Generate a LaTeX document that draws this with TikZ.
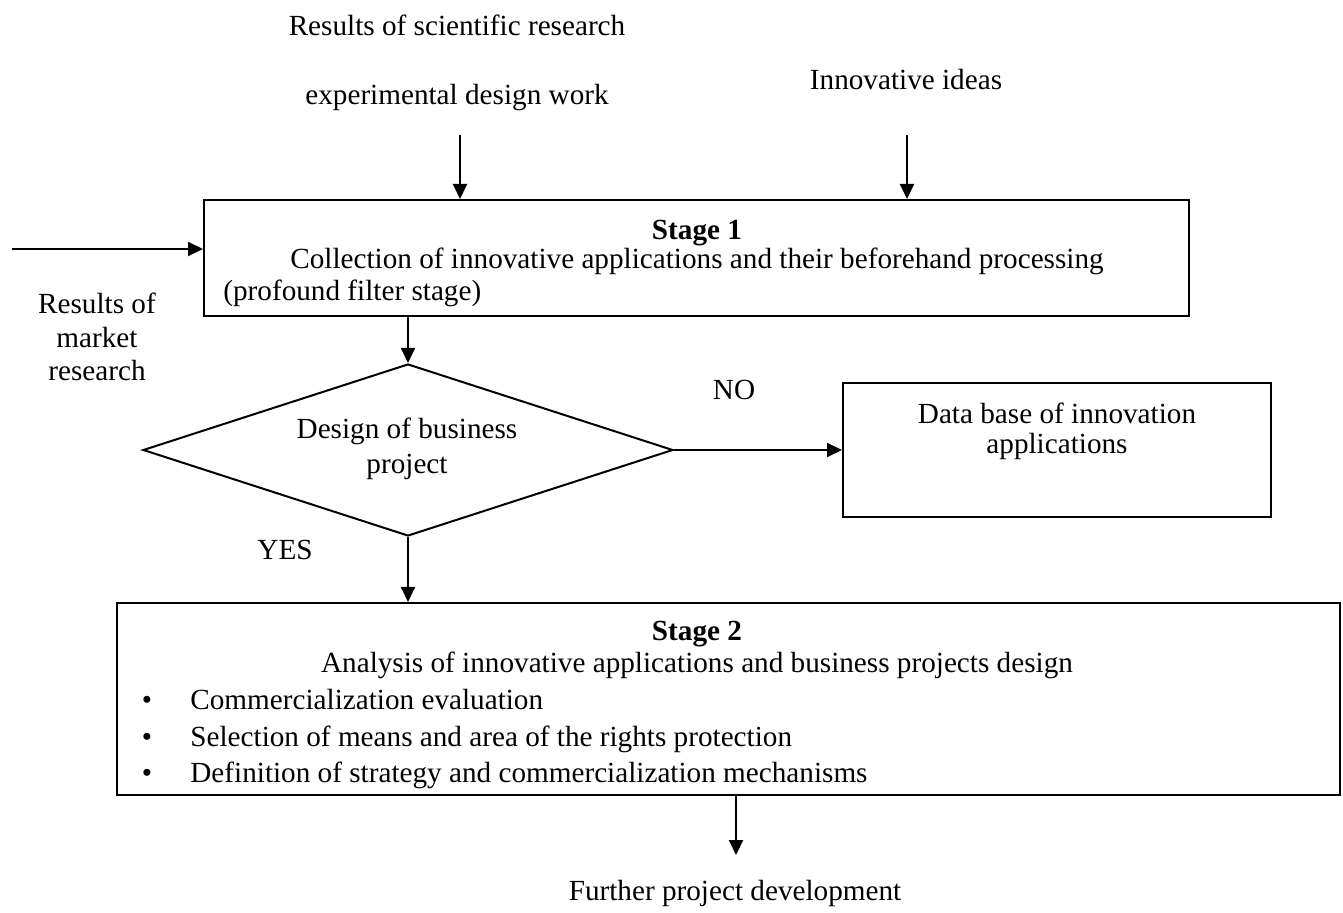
\documentclass[tikz,border=0pt]{standalone}
\usepackage{fontspec}
\setmainfont{Liberation Serif}
\usetikzlibrary{arrows.meta,shapes.geometric}
\begin{document}
\begin{tikzpicture}[x=0.5pt,y=-0.5pt,
  every node/.style={font=\fontsize{14.6}{17}\selectfont, inner sep=0pt},
  arr/.style={line width=1pt,-{Triangle[length=7.5pt,width=7pt]}},
  boxst/.style={draw,line width=1pt,rectangle},
  txt/.style={align=center},
  bl/.style={anchor=base}]
\useasboundingbox (0,0) rectangle (1343,913);
% sources
\node[bl] (res1) at (457,36) {Results of scientific research};
\node[bl] (res2) at (457,105) {experimental design work};
\node[bl] (idea) at (906,90) {Innovative ideas};
\node[txt,font=\fontsize{14.6}{16.75}\selectfont] (mkt) at (97,337) {Results of\\market\\research};
% stage 1 box
\node[boxst,minimum width=492.5pt,minimum height=58pt] (box1) at (696.5,258) {};
\node[bl] (st1) at (697,240) {\textbf{Stage 1}};
\node[bl] (st1a) at (697,269) {Collection of innovative applications and their beforehand processing};
\node[bl,anchor=base west] (st1b) at (223,301) {(profound filter stage)};
% arrows into stage 1
\coordinate (a1) at (460,135);
\coordinate (a2) at (907,135);
\coordinate (a3) at (12,249);
\draw[arr] (a1) -- (a1 |- box1.north);
\draw[arr] (a2) -- (a2 |- box1.north);
\draw[arr] (a3) -- (a3 -| box1.west);
% diamond
\node[draw,line width=1pt,diamond,minimum width=265pt,minimum height=86pt,aspect=3] (dia) at (408,450) {};
\node[txt,font=\fontsize{14.6}{17.5}\selectfont] (diat) at (407,449) {Design of business\\project};
\coordinate (a4) at (408,316);
\draw[arr] (a4) -- (dia.north);
% database box
\node[boxst,minimum width=214pt,minimum height=67pt] (db) at (1057,450) {};
\node[txt,font=\fontsize{14.6}{15}\selectfont] (dbt) at (1057,431) {Data base of innovation\\applications};
\draw[arr] (dia.east) -- (dia.east -| db.west);
\node[bl] (no) at (734,400) {NO};
% stage 2 box
\node[boxst,minimum width=611.5pt,minimum height=96pt] (box2) at (728.5,699) {};
\draw[arr] (dia.south) -- (dia.south |- box2.north);
\node[bl] (yes) at (285,560) {YES};
\node[bl] (st2) at (697,641) {\textbf{Stage 2}};
\node[bl] (st2a) at (697,673) {Analysis of innovative applications and business projects design};
\node[bl] (b1) at (147,709) {\textbullet};
\node[bl] (b2) at (147,746) {\textbullet};
\node[bl] (b3) at (147,782) {\textbullet};
\node[bl,anchor=base west] (l1) at (190,709) {Commercialization evaluation};
\node[bl,anchor=base west] (l2) at (190,746) {Selection of means and area of the rights protection};
\node[bl,anchor=base west] (l3) at (190,782) {Definition of strategy and commercialization mechanisms};
% output
\node[bl] (fur) at (735,900) {Further project development};
\coordinate (a5) at (736,800);
\draw[arr] (a5 |- box2.south) -- (736,855);
\end{tikzpicture}
\end{document}
